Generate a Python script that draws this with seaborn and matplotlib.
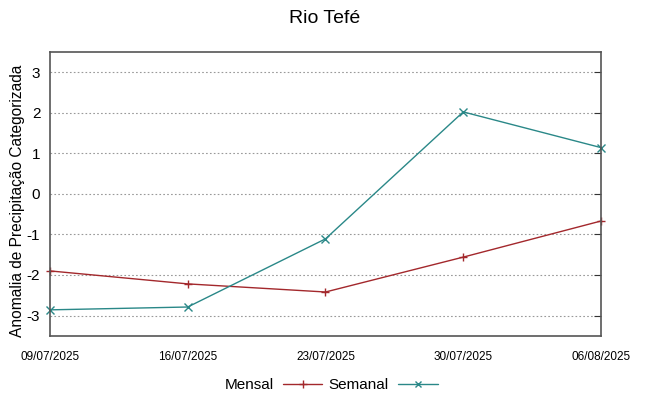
import pandas as pd
import matplotlib
matplotlib.use('Agg')
import matplotlib.pyplot as plt
import seaborn as sns

# ── data ─────────────────────────────────────────────
dates = ['09/07/2025', '16/07/2025', '23/07/2025', '30/07/2025', '06/08/2025']
mensal = [-1.90, -2.22, -2.42, -1.56, -0.67]
semanal = [-2.86, -2.79, -1.11, 2.02, 1.14]
yticks = [-3, -2, -1, 0, 1, 2, 3]

df = pd.DataFrame({
    'pos': list(range(len(dates))) * 2,
    'valor': mensal + semanal,
    'serie': ['Mensal'] * len(dates) + ['Semanal'] * len(dates),
})

sns.set_style('white')
plt.rcParams['font.family'] = ['Liberation Sans', 'DejaVu Sans']
plt.rcParams['text.color'] = 'black'
plt.rcParams['axes.labelcolor'] = 'black'
plt.rcParams['xtick.color'] = 'black'
plt.rcParams['ytick.color'] = 'black'

fig = plt.figure(figsize=(6.49, 3.96), dpi=100)
ax = fig.add_axes([0.077, 0.152, 0.849, 0.717])

colors = {'Mensal': '#a3282c', 'Semanal': '#2a8888'}
sns.lineplot(data=df, x='pos', y='valor', hue='serie', style='serie',
             markers={'Mensal': '+', 'Semanal': 'x'}, dashes=False,
             palette=colors, linewidth=1, markersize=6,
             ax=ax, legend=False)
# seaborn paints marker edges white; give them the line colour
for ln in ax.lines:
    ln.set_markeredgecolor(ln.get_color())
    ln.set_markeredgewidth(1)
    ln.set_clip_on(False)

ax.set_xlim(0, len(dates) - 1)
ax.set_ylim(-3.5, 3.5)
ax.set_xticks(range(len(dates)))
ax.set_xticklabels(dates, fontsize=8.5)
ax.set_yticks(yticks)
ax.set_yticklabels([str(t) for t in yticks], fontsize=11)
ax.tick_params(axis='both', direction='in', length=5, color='#333333',
               right=True, top=False)
ax.tick_params(axis='x', pad=11)
ax.tick_params(axis='y', pad=7)
ax.grid(axis='y', linestyle=(0, (1.5, 2)), color='#999999', linewidth=0.8)
for s in ax.spines.values():
    s.set_color('#555555')
    s.set_linewidth(1.2)

ax.set_xlabel('')
ax.set_ylabel('Anomalia de Precipitação Categorizada', fontsize=11.2)
ax.yaxis.set_label_coords(-0.046, 0.475)
fig.suptitle('Rio Tefé', fontsize=14, y=0.975)

handles = [plt.Line2D([], [], color=colors['Mensal'], marker='+', lw=1),
           plt.Line2D([], [], color=colors['Semanal'], marker='x', lw=1, markersize=5)]
fig.legend(handles, ['Mensal', 'Semanal'], loc='lower center', ncol=2,
           bbox_to_anchor=(0.51, -0.025), frameon=False, markerfirst=False,
           fontsize=11, handlelength=2.6, handletextpad=0.6, columnspacing=0.4)

fig.savefig('out.png', dpi=100)
